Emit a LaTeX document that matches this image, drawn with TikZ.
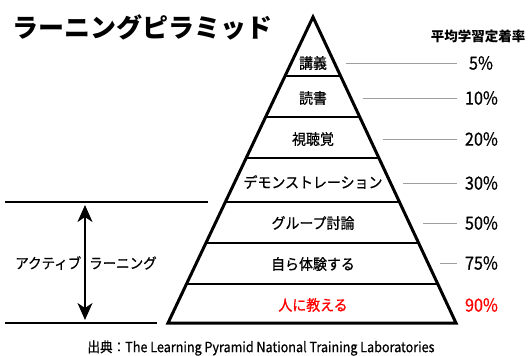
\documentclass[tikz,border=0pt]{standalone}
\usepackage{fontspec}
\newfontfamily\jpfont{Noto Sans CJK JP}
\newfontfamily\jpmed[FakeStretch=0.93,FakeBold=0.7]{Noto Sans CJK JP}
\newfontfamily\jpnarrow[FakeStretch=0.9,FakeBold=0.6]{Noto Sans CJK JP}
\usetikzlibrary{calc,positioning,arrows.meta}
\tikzset{
  >={Stealth[length=17pt,width=15pt,inset=5pt]},
  pyramid/.style={draw=black, line width=3pt, miter limit=25},
  level/.style={draw=black, line width=2.6pt},
  layer/.style={
    font=\jpmed\fontsize{15}{15}\selectfont,
    inner sep=0pt
  },
  rate/.style={
    font=\jpnarrow\fontsize{18}{18}\selectfont,
    inner sep=0pt,
    text width=32pt,
    align=center
  },
  leader/.style={draw=gray!75, line width=1pt},
  divider/.style={draw=black, line width=2pt},
  hot/.style={text=red},
  heading/.style={font=\jpfont\bfseries\fontsize{26}{26}\selectfont, inner sep=0pt},
  ratehead/.style={font=\jpfont\bfseries\fontsize{13.5}{13.5}\selectfont, inner sep=0pt},
  side/.style={font=\jpmed\fontsize{14.5}{14.5}\selectfont, inner sep=0pt},
  source/.style={font=\jpnarrow\fontsize{14}{14}\selectfont, inner sep=0pt},
}
\begin{document}
\begin{tikzpicture}[x=1pt, y=-1pt]
  \useasboundingbox (0,0) rectangle (528,356);
  % pyramid
  \coordinate (apex) at (313,17);
  \coordinate (bl) at (168,323);
  \coordinate (br) at (456,323);
  \draw[pyramid] (apex) -- (bl) -- (br) -- cycle;
  \foreach \yy in {76,117,158,202,243,284}
    \draw[level] ($(apex)!{(\yy-17)/306}!(bl)$) -- ($(apex)!{(\yy-17)/306}!(br)$);

  \node[layer] (lecture) at (313,63) {講義};
  \node[layer] (reading) at (313,98) {読書};
  \node[layer] (av) at (313,139) {視聴覚};
  \node[layer] (demo) at (313,182) {デモンストレーション};
  \node[layer] (discuss) at (313,223) {グループ討論};
  \node[layer] (practice) at (313,264) {自ら体験する};
  \node[layer, hot] (teach) at (313,305) {人に教える};

  % retention rates
  \node[ratehead] (rhead) at (478,36) {平均学習定着率};
  \node[rate] (r5) at (481,63) {5\%};
  \node[rate] (r10) at (481,98) {10\%};
  \node[rate] (r20) at (481,139) {20\%};
  \node[rate] (r30) at (481,183) {30\%};
  \node[rate] (r50) at (481,223) {50\%};
  \node[rate] (r75) at (481,263) {75\%};
  \node[rate, hot] (r90) at (481,305) {90\%};
  \foreach \sx/\r in {346/r5,363/r10,383/r20,403/r30,423/r50,440/r75}
    \draw[leader] (\sx,0 |- \r.west) -- ([xshift=-8pt]\r.west);

  % active learning
  \coordinate (topL) at (5,202);
  \coordinate (topR) at (208,202);
  \coordinate (botL) at (5,323);
  \coordinate (botR) at (157,323);
  \draw[divider] (topL) -- (topR);
  \draw[divider] (botL) -- (botR);
  \node[side] (active) at (86,263) {アクティブ\hspace{8pt}ラーニング};
  \coordinate (up) at (85,205);
  \coordinate (down) at (85,320);
  \draw[<->, line width=1.7pt] (up) -- (down);

  \node[heading, anchor=west] (title) at (12,27) {ラーニングピラミッド};
  \node[source] (credit) at (261,348) {出典：The Learning Pyramid National Training Laboratories};
\end{tikzpicture}
\end{document}
